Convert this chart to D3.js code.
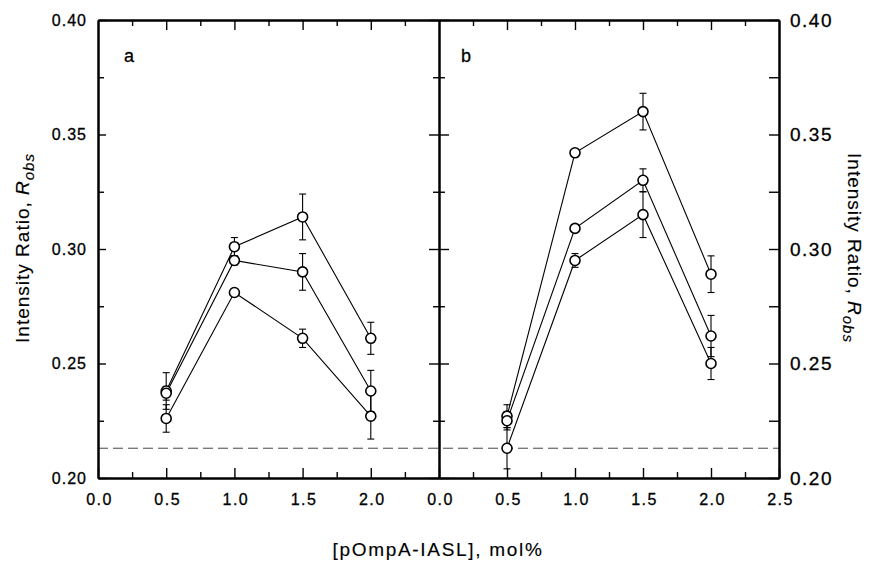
<!DOCTYPE html>
<html>
<head>
<meta charset="utf-8">
<script src="https://cdn.jsdelivr.net/npm/d3@7"></script>
<style>
  body { margin: 0; background: #fff; }
  svg { display: block; font-family: Arial, "Liberation Sans", sans-serif; }
</style>
</head>
<body>
<svg id="chart" width="874" height="564"></svg>
<script>
// Concentrations (mol%) at which R_obs was measured
const xValues = [0.5, 1.0, 1.5, 2.0];

// Panel a: three series and their error bars
const aTop = [0.238, 0.301, 0.314, 0.261];
const aTopErr = [0.008, 0.004, 0.010, 0.007];
const aMid = [0.237, 0.295, 0.290, 0.238];
const aMidErr = [0.003, 0.002, 0.008, 0.009];
const aLow = [0.226, 0.281, 0.261, 0.227];
const aLowErr = [0.006, 0.001, 0.004, 0.010];

// Panel b: three series and their error bars
const bTop = [0.227, 0.342, 0.360, 0.289];
const bTopErr = [0.005, 0.001, 0.008, 0.008];
const bMid = [0.225, 0.309, 0.330, 0.262];
const bMidErr = [0.004, 0.001, 0.005, 0.009];
const bLow = [0.213, 0.295, 0.315, 0.250];
const bLowErr = [0.009, 0.003, 0.010, 0.007];

// Reference level (dashed line)
const baseline = 0.213;

// Axis ticks
const yMajor = [0.20, 0.25, 0.30, 0.35, 0.40];
const yMinor = [0.225, 0.275, 0.325, 0.375];
const xMajorA = [0.0, 0.5, 1.0, 1.5, 2.0];
const xMajorB = [0.0, 0.5, 1.0, 1.5, 2.0, 2.5];
const xMinor = [0.25, 0.75, 1.25, 1.75, 2.25];

const svg = d3.select("#chart");
const plotTop = 20, plotBottom = 478;
const aLeft = 98, mid = 439, bRight = 779;

const y = d3.scaleLinear().domain([0.20, 0.40]).range([plotBottom, plotTop]);
const xa = d3.scaleLinear().domain([0, 2.5]).range([aLeft, mid]);
const xb = d3.scaleLinear().domain([0, 2.5]).range([mid, bRight]);
const fmt = d3.format(".2f");
const fmtX = d3.format(".1f");
const FONT = "Arial, 'Liberation Sans', sans-serif";

// Dashed reference line across both panels
svg.append("line")
  .attr("x1", xa(0)).attr("x2", xb(2.5))
  .attr("y1", y(baseline)).attr("y2", y(baseline))
  .attr("stroke", "#444").attr("stroke-width", 1)
  .attr("stroke-dasharray", "10,5");

function styleAxis(g, width) {
  g.select(".domain").attr("stroke", "#000").attr("stroke-width", width);
  g.selectAll(".tick line").attr("stroke", "#000").attr("stroke-width", 1.4);
  g.selectAll(".tick text").attr("fill", "#000")
    .attr("stroke", "#000").attr("stroke-width", 0.3);
}

// Left axis (labels outside, ticks inward)
const gl = svg.append("g").attr("transform", `translate(${aLeft},0)`)
  .call(d3.axisLeft(y).tickValues(yMajor).tickFormat(fmt).tickSizeInner(-8).tickSizeOuter(0).tickPadding(11))
  .attr("font-size", 16).attr("font-family", FONT);
gl.selectAll(".tick text").attr("letter-spacing", 1);
styleAxis(gl, 2);
const glm = svg.append("g").attr("transform", `translate(${aLeft},0)`)
  .call(d3.axisLeft(y).tickValues(yMinor).tickFormat("").tickSizeInner(-6).tickSizeOuter(0));
styleAxis(glm, 2);

// Shared middle axis: ticks cross both sides
const gm = svg.append("g").attr("transform", `translate(${mid},0)`)
  .call(d3.axisLeft(y).tickValues(yMajor).tickFormat("").tickSizeOuter(0));
gm.selectAll(".tick line").attr("x1", -10).attr("x2", 10);
styleAxis(gm, 2);
const gmm = svg.append("g").attr("transform", `translate(${mid},0)`)
  .call(d3.axisLeft(y).tickValues(yMinor).tickFormat("").tickSizeOuter(0));
gmm.selectAll(".tick line").attr("x1", -6).attr("x2", 6);
styleAxis(gmm, 2);

// Right axis (labels outside, ticks inward)
const gr = svg.append("g").attr("transform", `translate(${bRight},0)`)
  .call(d3.axisRight(y).tickValues(yMajor).tickFormat(fmt).tickSizeInner(-10).tickSizeOuter(0).tickPadding(11))
  .attr("font-size", 19).attr("font-family", FONT);
gr.selectAll(".tick text").attr("letter-spacing", 1.5);
styleAxis(gr, 2);
const grm = svg.append("g").attr("transform", `translate(${bRight},0)`)
  .call(d3.axisRight(y).tickValues(yMinor).tickFormat("").tickSizeInner(-10).tickSizeOuter(0));
styleAxis(grm, 2);

// Bottom and top axes for each panel
[[xa, xMajorA], [xb, xMajorB]].forEach(([x, majors]) => {
  const gb = svg.append("g").attr("transform", `translate(0,${plotBottom})`)
    .call(d3.axisBottom(x).tickValues(majors).tickFormat(fmtX).tickSizeInner(-10).tickSizeOuter(0).tickPadding(16))
    .attr("font-size", 16).attr("font-family", FONT);
  gb.selectAll(".tick text").attr("letter-spacing", 1.5).attr("dx", 1);
  styleAxis(gb, 2);
  const gbm = svg.append("g").attr("transform", `translate(0,${plotBottom})`)
    .call(d3.axisBottom(x).tickValues(xMinor).tickFormat("").tickSizeInner(-6).tickSizeOuter(0));
  styleAxis(gbm, 2);
  const gt = svg.append("g").attr("transform", `translate(0,${plotTop})`)
    .call(d3.axisTop(x).tickValues(majors.filter(v => v > 0 && v < 2.5)).tickFormat("").tickSizeInner(-10).tickSizeOuter(0));
  styleAxis(gt, 2);
  const gtm = svg.append("g").attr("transform", `translate(0,${plotTop})`)
    .call(d3.axisTop(x).tickValues(xMinor).tickFormat("").tickSizeInner(-6).tickSizeOuter(0));
  styleAxis(gtm, 2);
});

// Series drawing
function drawPanel(x, series) {
  const line = d3.line().x((d, i) => x(xValues[i])).y(d => y(d));
  series.forEach(([vals]) => {
    svg.append("path").datum(vals)
      .attr("d", line).attr("fill", "none")
      .attr("stroke", "#000").attr("stroke-width", 1.1);
  });
  series.forEach(([vals, errs]) => {
    const g = svg.append("g");
    vals.forEach((v, i) => {
      const cx = x(xValues[i]);
      const hi = y(v + errs[i]), lo = y(v - errs[i]);
      g.append("line").attr("x1", cx).attr("x2", cx).attr("y1", hi).attr("y2", lo)
        .attr("stroke", "#000").attr("stroke-width", 1.1);
      [hi, lo].forEach(yy => g.append("line")
        .attr("x1", cx - 3.5).attr("x2", cx + 3.5).attr("y1", yy).attr("y2", yy)
        .attr("stroke", "#000").attr("stroke-width", 1.1));
    });
  });
  series.forEach(([vals]) => {
    svg.append("g").selectAll("circle").data(vals).join("circle")
      .attr("cx", (d, i) => x(xValues[i])).attr("cy", d => y(d))
      .attr("r", 5).attr("fill", "#fff")
      .attr("stroke", "#000").attr("stroke-width", 1.6);
  });
}
drawPanel(xa, [[aTop, aTopErr], [aMid, aMidErr], [aLow, aLowErr]]);
drawPanel(xb, [[bTop, bTopErr], [bMid, bMidErr], [bLow, bLowErr]]);

// Panel letters
svg.append("text").attr("x", 124).attr("y", 62).attr("font-size", 18)
  .attr("stroke", "#000").attr("stroke-width", 0.3).text("a");
svg.append("text").attr("x", 461).attr("y", 62).attr("font-size", 18)
  .attr("stroke", "#000").attr("stroke-width", 0.3).text("b");

// Axis titles
function yTitle(x, rot) {
  const t = svg.append("text")
    .attr("transform", `translate(${x},248) rotate(${rot})`)
    .attr("text-anchor", "middle").attr("font-size", 19)
    .attr("letter-spacing", 1)
    .attr("stroke", "#000").attr("stroke-width", 0.15);
  t.append("tspan").text("Intensity Ratio, ");
  t.append("tspan").attr("font-style", "italic").text("R");
  t.append("tspan").attr("font-style", "italic").attr("font-size", 15).attr("dy", 5).text("obs");
}
yTitle(29, -90);
yTitle(848, 90);

svg.append("text").attr("x", 438).attr("y", 556)
  .attr("text-anchor", "middle").attr("font-size", 19)
  .attr("letter-spacing", 1.7)
  .attr("stroke", "#000").attr("stroke-width", 0.15)
  .text("[pOmpA-IASL], mol%");
</script>
</body>
</html>
